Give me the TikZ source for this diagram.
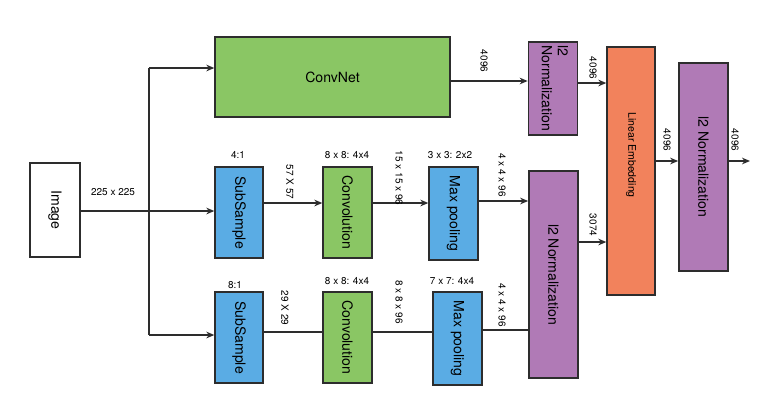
\documentclass[tikz,border=0pt]{standalone}
\usepackage{fontspec}
\setmainfont{TeX Gyre Heros}
\usepackage{graphicx}
\usetikzlibrary{arrows.meta}

\definecolor{edge}{RGB}{45,45,45}
\definecolor{subblue}{RGB}{90,172,228}
\definecolor{convgreen}{RGB}{138,198,100}
\definecolor{normpurple}{RGB}{176,122,182}
\definecolor{embedorange}{RGB}{242,130,92}

\begin{document}
\begin{tikzpicture}[
  x=0.3mm, y=-0.3mm,
  >={Stealth[length=2.4mm, width=2mm]},
  blk/.style={draw=edge, line width=1.2pt, inner sep=0pt,
              font=\fontsize{12}{13.6}\selectfont},
  imgbox/.style={blk, fill=white, minimum width=15mm, minimum height=28.2mm},
  sub/.style={blk, fill=subblue, minimum width=14.4mm, minimum height=27.3mm},
  conv/.style={blk, fill=convgreen, minimum width=14.7mm, minimum height=27.3mm},
  pool/.style={blk, fill=subblue, minimum width=14.7mm, minimum height=27.9mm},
  norm/.style={blk, fill=normpurple, minimum width=14.8mm},
  embed/.style={blk, fill=embedorange, minimum width=14.4mm, minimum height=74.4mm},
  lbl/.style={inner sep=0pt, font=\fontsize{8.5}{10}\selectfont},
  vlbl/.style={lbl, rotate=-90},
  wire/.style={draw=edge, line width=1.1pt}]
  \useasboundingbox (0,0) rectangle (777,401);
  % input and the three branches
  \node[imgbox] (img) at (55,210) {\rotatebox{-90}{Image}};
  \node[conv, minimum width=70.5mm, minimum height=24mm] (cnet) at (332.5,77) {ConvNet};
  \node[sub] (sub1) at (239,212.5) {\rotatebox{-90}{SubSample}};
  \node[conv] (conv1) at (347.5,212.5) {\rotatebox{-90}{Convolution}};
  \node[pool] (pool1) at (453.5,213.5) {\rotatebox{-90}{Max pooling}};
  \node[sub] (sub2) at (239,337.5) {\rotatebox{-90}{SubSample}};
  \node[conv] (conv2) at (347.5,337.5) {\rotatebox{-90}{Convolution}};
  \node[pool] (pool2) at (457.5,338.5) {\rotatebox{-90}{Max pooling}};
  % normalization and embedding
  \node[norm, minimum height=27.9mm] (n1) at (553,88.5)
    {\rotatebox{-90}{\begin{tabular}{@{}l@{}}l2\\Normalization\end{tabular}}};
  \node[norm, minimum height=62.1mm] (n2) at (553.5,274.5) {\rotatebox{-90}{l2 Normalization}};
  \node[embed, font=\fontsize{9}{10}\selectfont] (lin) at (631,171)
    {\rotatebox{-90}{Linear Embedding\hspace{9.6mm}}};
  \node[norm, minimum height=62.4mm] (n3) at (703.5,167) {\rotatebox{-90}{l2 Normalization}};
  % wire levels
  \coordinate (split) at (149,211);
  \coordinate (top) at (149,68);
  \coordinate (bot) at (149,335);
  \coordinate (r1) at (0,203);
  \coordinate (r1b) at (0,201);
  \coordinate (r2) at (0,332);
  \coordinate (r2b) at (0,330);
  \coordinate (t1) at (0,81);
  \coordinate (t2) at (0,83);
  \coordinate (mid) at (0,242);
  \coordinate (o) at (0,161);
  \coordinate (out) at (750,161);
  % wires
  \draw[wire] (img.east |- split) -- (split);
  \draw[wire] (top) -- (bot);
  \draw[wire, ->] (top) -- (cnet.west |- top);
  \draw[wire, ->] (split) -- (sub1.west |- split);
  \draw[wire, ->] (bot) -- (sub2.west |- bot);
  \draw[wire, ->] (sub1.east |- r1) -- (conv1.west |- r1);
  \draw[wire, ->] (conv1.east |- r1) -- (pool1.west |- r1);
  \draw[wire, ->] (pool1.east |- r1b) -- (n2.west |- r1b);
  \draw[wire] (sub2.east |- r2) -- (conv2.west |- r2);
  \draw[wire] (conv2.east |- r2) -- (pool2.west |- r2);
  \draw[wire] (pool2.east |- r2b) -- (n2.west |- r2b);
  \draw[wire, ->] (cnet.east |- t1) -- (n1.west |- t1);
  \draw[wire, ->] (n1.east |- t2) -- (lin.west |- t2);
  \draw[wire, ->] (n2.east |- mid) -- (lin.west |- mid);
  \draw[wire, ->] (lin.east |- o) -- (n3.west |- o);
  \draw[wire, ->] (n3.east |- o) -- (out);
  % sizes and kernels
  \node[lbl] (l225) at (113,192) {225 x 225};
  \node[lbl] (k1) at (238,155) {4:1};
  \node[lbl] (k2) at (347,155) {8 x 8: 4x4};
  \node[lbl] (k3) at (450,155) {3 x 3: 2x2};
  \node[lbl] (k4) at (235,285) {8:1};
  \node[lbl] (k5) at (347,281) {8 x 8: 4x4};
  \node[lbl] (k6) at (452,281) {7 x 7: 4x4};
  \node[vlbl] (d1) at (290,182) {57 X 57};
  \node[vlbl] (d2) at (399,178) {15 x 15 x 96};
  \node[vlbl] (d3) at (502,175) {4 x 4 x 96};
  \node[vlbl] (d4) at (285,308) {29 X 29};
  \node[vlbl] (d5) at (399,302) {8 x 8 x 96};
  \node[vlbl] (d6) at (502,305) {4 x 4 x 96};
  \node[vlbl] (d7) at (484,61) {4096};
  \node[vlbl] (d8) at (593,68) {4096};
  \node[vlbl] (d9) at (593,225) {3074};
  \node[vlbl] (d10) at (667,140) {4096};
  \node[vlbl] (d11) at (735,140) {4096};
\end{tikzpicture}
\end{document}
